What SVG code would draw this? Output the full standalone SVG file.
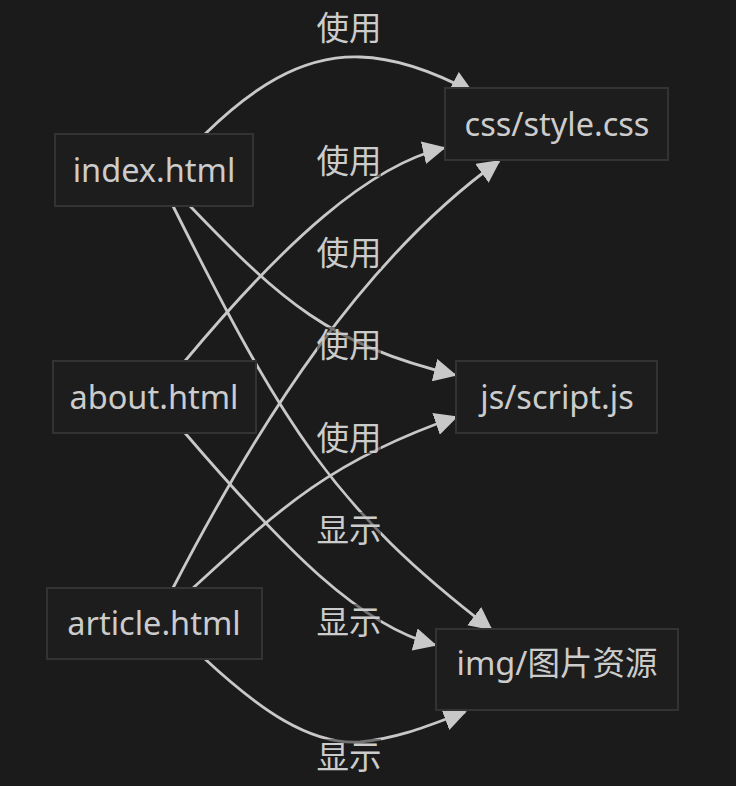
<svg xmlns="http://www.w3.org/2000/svg" width="736" height="786" viewBox="0 0 736 786">
<style>
.bg{fill:#1b1b1b}
.node rect{fill:#1d1d1d;stroke:#333333;stroke-width:2}
.node text{fill:#cccccc;font-family:"Noto Sans","Noto Sans CJK SC",sans-serif;font-size:32.5px;text-anchor:middle;dominant-baseline:central}
.edge{fill:none;stroke:#c8c8c8;stroke-width:2.8;marker-end:url(#a)}
.lbl rect{fill:#1b1b1b;opacity:0.5}
.lbl text{fill:#cccccc;font-family:"Noto Sans CJK SC","Noto Sans",sans-serif;font-size:32.5px;text-anchor:middle;dominant-baseline:central}
</style>
<defs>
<marker id="a" viewBox="0 0 12 12" refX="11" refY="6" markerWidth="23" markerHeight="23" markerUnits="userSpaceOnUse" orient="auto"><path d="M0,0 L12,6 L0,12 z" fill="#c8c8c8"/></marker>
</defs>
<rect class="bg" x="0" y="0" width="736" height="786"/>
<g id="connectors">
<path class="edge" d="M205,134 C250,90 300,55 360,57 C400,58 440,75 472,92"/>
<path class="edge" d="M185,361 C285,241 370,165 444,148"/>
<path class="edge" d="M173,588 C261,418 364,258 499,161"/>
<path class="edge" d="M190,206 C280,300 330,345 455,375"/>
<path class="edge" d="M193,588 C278,510 331,460 456,417"/>
<path class="edge" d="M173,206 C283,426 334,509 491,629"/>
<path class="edge" d="M185,433 C288,553 360,625 435,645"/>
<path class="edge" d="M205,659 C260,710 310,745 360,742 C400,738 430,725 465,712"/>
</g>
<g id="labels">
<g class="lbl"><rect x="317" y="10" width="64" height="34"/><text x="349" y="25">使用</text></g>
<g class="lbl"><rect x="317" y="143" width="64" height="34"/><text x="349" y="158">使用</text></g>
<g class="lbl"><rect x="317" y="235" width="64" height="34"/><text x="349" y="250">使用</text></g>
<g class="lbl"><rect x="317" y="327" width="64" height="34"/><text x="349" y="342">使用</text></g>
<g class="lbl"><rect x="317" y="420" width="64" height="34"/><text x="349" y="435">使用</text></g>
<g class="lbl"><rect x="317" y="512" width="64" height="34"/><text x="349" y="527">显示</text></g>
<g class="lbl"><rect x="317" y="604" width="64" height="34"/><text x="349" y="619">显示</text></g>
<g class="lbl"><rect x="317" y="739" width="64" height="34"/><text x="349" y="754">显示</text></g>
</g>
<g id="index" class="node"><rect x="55" y="134" width="198" height="72"/><text x="154" y="169">index.html</text></g>
<g id="about" class="node"><rect x="53" y="361" width="203" height="72"/><text x="154" y="396">about.html</text></g>
<g id="article" class="node"><rect x="47" y="588" width="215" height="71"/><text x="154" y="622">article.html</text></g>
<g id="css" class="node"><rect x="445" y="88" width="223" height="72"/><text x="557" y="123">css/style.css</text></g>
<g id="js" class="node"><rect x="456" y="361" width="201" height="72"/><text x="557" y="396">js/script.js</text></g>
<g id="img" class="node"><rect x="436" y="629" width="242" height="81"/><text x="557" y="662">img/图片资源</text></g>
</svg>
